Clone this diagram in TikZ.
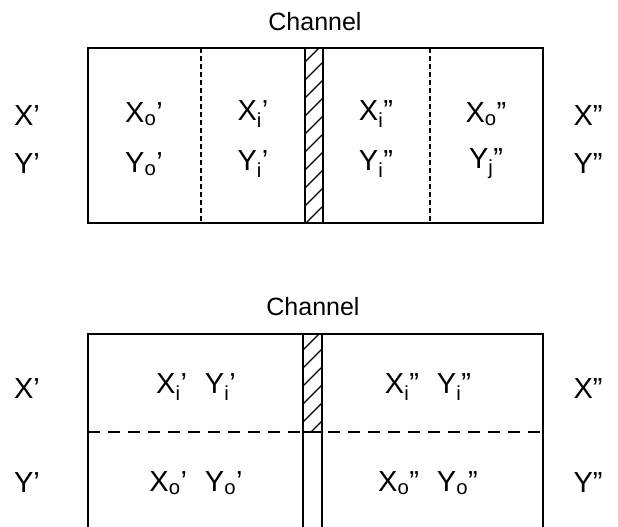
\documentclass[tikz,border=0pt]{standalone}
\usepackage{fontspec}
\setmainfont{Liberation Sans}
% variable with subscript followed by prime(s)
\newcommand\pv[3]{#1\textsubscript{#2}#3}
\begin{document}
\begin{tikzpicture}[x=1pt,y=-1pt,
  frame/.style={line width=1.8pt},
  wall/.style={line width=2.2pt},
  hatch/.style={line width=1.3pt},
  cellsep/.style={line width=1.2pt,dash pattern=on 5pt off 3pt},
  rowsep/.style={line width=2pt,dash pattern=on 12pt off 8pt},
  lab/.style={inner sep=0pt,font=\fontsize{29}{32}\selectfont},
  title/.style={inner sep=0pt,font=\fontsize{25}{30}\selectfont}]
\useasboundingbox (0,0) rectangle (618,527);

% ---------- upper arrangement: four cells in a row ----------
\node[title] (ch1) at (315,22) {Channel};
\draw[frame] (88,48) rectangle (543,223);
\draw[cellsep] (201,48) -- (201,223);
\draw[cellsep] (430,48) -- (430,223);
\begin{scope}
  \clip (305,48) rectangle (323,223);
  \foreach \k in {0,...,11}
    \draw[hatch] (305,62+18*\k) -- (323,44+18*\k);
\end{scope}
\draw[wall] (305,48) rectangle (323,223);

\node[lab] (xa) at (27,116) {X'};
\node[lab] (ya) at (27,164) {Y'};
\node[lab] (xb) at (588,116) {X''};
\node[lab] (yb) at (588,164) {Y''};

\node[lab] (xo1) at (144,114) {\pv{X}{o}{'}};
\node[lab] (yo1) at (144,164) {\pv{Y}{o}{'}};
\node[lab] (xi1) at (253,114) {\pv{X}{i}{'}};
\node[lab] (yi1) at (253,164) {\pv{Y}{i}{'}};
\node[lab] (xi2) at (376,114) {\pv{X}{i}{''}};
\node[lab] (yi2) at (376,164) {\pv{Y}{i}{''}};
\node[lab] (xo2) at (486,114) {\pv{X}{o}{''}};
\node[lab] (yo2) at (486,164) {\pv{Y}{j}{''}};

% ---------- lower arrangement: inner and outer rows ----------
\node[title] (ch2) at (313,307) {Channel};
\draw[frame] (88,540) -- (88,334) -- (543,334) -- (543,540);
\draw[rowsep] (88,432) -- (543,432);
\begin{scope}
  \clip (303,334) rectangle (322,432);
  \foreach \k in {0,...,6}
    \draw[hatch] (303,350+18*\k) -- (322,331+18*\k);
\end{scope}
\draw[wall] (303,334) rectangle (322,432);
\draw[wall] (303,432) -- (303,540);
\draw[wall] (322,432) -- (322,540);

\node[lab] (xc) at (27,389) {X'};
\node[lab] (yc) at (27,483) {Y'};
\node[lab] (xd) at (588,389) {X''};
\node[lab] (yd) at (588,483) {Y''};

\node[lab] (in1) at (196,387) {\pv{X}{i}{'}\hspace{18pt}\pv{Y}{i}{'}};
\node[lab] (out1) at (196,483) {\pv{X}{o}{'}\hspace{18pt}\pv{Y}{o}{'}};
\node[lab] (in2) at (428,387) {\pv{X}{i}{''}\hspace{18pt}\pv{Y}{i}{''}};
\node[lab] (out2) at (428,483) {\pv{X}{o}{''}\hspace{18pt}\pv{Y}{o}{''}};
\end{tikzpicture}
\end{document}
